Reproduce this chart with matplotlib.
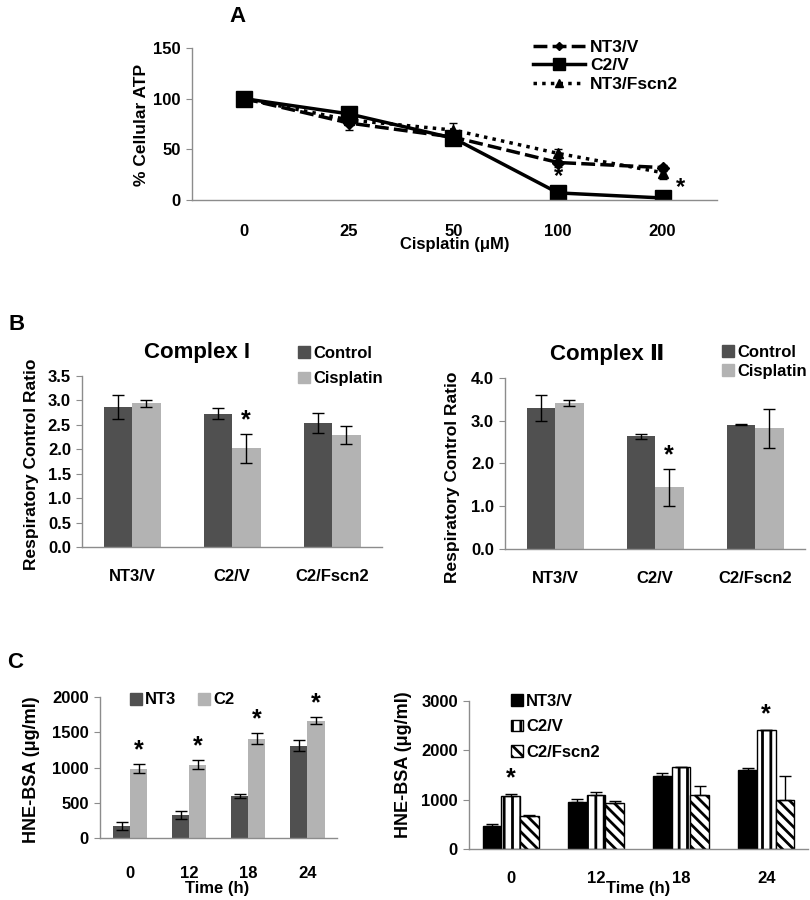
import matplotlib
matplotlib.use("Agg")
import matplotlib.pyplot as plt
from matplotlib.lines import Line2D
import numpy as np

plt.rcParams['font.family'] = ['Liberation Sans', 'DejaVu Sans']
plt.rcParams['font.weight'] = 'bold'
plt.rcParams['hatch.linewidth'] = 2.0

# ---- panel A: cellular ATP vs cisplatin
doses = ["0", "25", "50", "100", "200"]
atp_nt3_v = [100, 76, 62, 37, 32]
atp_nt3_v_err = [0, 7, 3, 4, 3]
atp_c2_v = [100, 85, 61, 7, 2]
atp_c2_v_err = [0, 3, 3, 2, 1]
atp_nt3_fscn2 = [100, 79, 69, 46, 27]
atp_nt3_fscn2_err = [0, 4, 7, 4, 6]

# ---- panel B: respiratory control ratio
cells_b = ["NT3/V", "C2/V", "C2/Fscn2"]
c1_control = [2.87, 2.73, 2.54]
c1_control_err = [0.25, 0.12, 0.20]
c1_cis = [2.94, 2.02, 2.29]
c1_cis_err = [0.07, 0.30, 0.18]
c2_control = [3.30, 2.64, 2.91]
c2_control_err = [0.30, 0.06, 0.01]
c2_cis = [3.41, 1.44, 2.82]
c2_cis_err = [0.07, 0.44, 0.45]

# ---- panel C: HNE-BSA over time
times = ["0", "12", "18", "24"]
hne_nt3 = [170, 330, 600, 1310]
hne_nt3_err = [60, 60, 30, 80]
hne_c2 = [985, 1040, 1410, 1665]
hne_c2_err = [70, 65, 80, 50]

hne_nt3_v = [460, 950, 1480, 1610]
hne_nt3_v_err = [40, 70, 60, 30]
hne_c2_v = [1080, 1100, 1670, 2420]
hne_c2_v_err = [40, 50, 0, 0]
hne_c2_fscn2 = [670, 940, 1100, 1000]
hne_c2_fscn2_err = [10, 40, 180, 470]

W, H = 810, 900
fig = plt.figure(figsize=(W / 100, H / 100), dpi=100)
GREY = '#8c8c8c'
DARK = '#505050'
LIGHT = '#b3b3b3'


def px_axes(left, top, right, bottom):
    return fig.add_axes([left / W, 1 - bottom / H, (right - left) / W, (bottom - top) / H])


def fig_text(x, y, s, **kw):
    fig.text(x / W, 1 - y / H, s, **kw)


def style(ax, xpad):
    for s in ['top', 'right']:
        ax.spines[s].set_visible(False)
    for s in ['left', 'bottom']:
        ax.spines[s].set_color(GREY)
        ax.spines[s].set_linewidth(1)
    ax.tick_params(axis='y', direction='out', length=4, color=GREY, labelsize=12, pad=4)
    ax.tick_params(axis='x', length=0, labelsize=12, pad=xpad)


def square_legend(ax, handles, labels, x, y, loc='center left', **kw):
    opts = dict(frameon=False, fontsize=12, handlelength=0.7, handleheight=0.7,
                handletextpad=0.2, borderpad=0, borderaxespad=0)
    opts.update(kw)
    ax.legend(handles, labels, loc=loc, bbox_to_anchor=(x / W, 1 - y / H),
              bbox_transform=fig.transFigure, **opts)


# ================= A
axA = px_axes(192, 48, 717, 200)
x = np.arange(len(doses))
styles_a = [
    (atp_nt3_v, atp_nt3_v_err, (0, (4, 1.5)), 'D', 6, 'NT3/V'),
    (atp_c2_v, atp_c2_v_err, '-', 's', 11, 'C2/V'),
    (atp_nt3_fscn2, atp_nt3_fscn2_err, (0, (1, 1.5)), '^', 7, 'NT3/Fscn2'),
]
handles_a = []
for vals, errs, ls, mk, ms, lab in styles_a:
    axA.errorbar(x, vals, yerr=errs, color='black', ls=ls, lw=2.5, marker=mk, ms=ms,
                 capsize=3, elinewidth=1)
    handles_a.append(Line2D([], [], color='black', ls=ls, lw=2.5, marker=mk, ms=ms * 0.75))
axA.set_xlim(-0.5, 4.52)
axA.set_ylim(0, 150)
axA.set_yticks([0, 50, 100, 150])
axA.set_xticks(x)
axA.set_xticklabels(doses)
style(axA, 17)
axA.text(3, 12, '*', ha='center', va='bottom', fontsize=17)
axA.text(4.13, 1, '*', ha='left', va='bottom', fontsize=17)
axA.legend(handles_a, [s[5] for s in styles_a], loc='upper left',
           bbox_to_anchor=(533 / W, 1 - 40 / H), bbox_transform=fig.transFigure,
           frameon=False, fontsize=12.5, handlelength=3.0, handletextpad=0.3, labelspacing=0.18,
           borderpad=0, borderaxespad=0)
fig_text(238, 16, 'A', fontsize=16, ha='center', va='center')
fig_text(455, 245, 'Cisplatin (\u03bcM)', fontsize=12, ha='center', va='center')
fig_text(141, 125, '% Cellular ATP', fontsize=12.5, ha='center', va='center', rotation=90)


def grouped(ax, vals, errs, colors, width, offsets):
    xs = np.arange(len(vals[0]))
    for v, e, c, o in zip(vals, errs, colors, offsets):
        ax.bar(xs + o, v, width, color=c, edgecolor='none', zorder=2)
        ax.errorbar(xs + o, v, yerr=e, fmt='none', ecolor='black', elinewidth=1, capsize=4,
                    capthick=1, zorder=3)
    return xs


hB = [plt.Rectangle((0, 0), 1, 1, color=DARK), plt.Rectangle((0, 0), 1, 1, color=LIGHT)]

# ================= B left
axB1 = px_axes(82, 376, 382, 547)
xs = grouped(axB1, [c1_control, c1_cis], [c1_control_err, c1_cis_err], [DARK, LIGHT], 0.285,
             [-0.1425, 0.1425])
axB1.set_xlim(-0.5, 2.5)
axB1.set_ylim(0, 3.5)
axB1.set_yticks(np.arange(0, 3.51, 0.5))
axB1.set_yticklabels([f'{v:.1f}' for v in np.arange(0, 3.51, 0.5)])
axB1.set_xticks(xs)
axB1.set_xticklabels(cells_b)
style(axB1, 16)
axB1.text(1.1425, c1_cis[1] + c1_cis_err[1] + 0.03, '*', ha='center', va='bottom', fontsize=18)
fig_text(197, 352, 'Complex I', fontsize=16, ha='center', va='center')
fig_text(17, 325, 'B', fontsize=16, ha='center', va='center')
fig_text(32, 464, 'Respiratory Control Ratio', fontsize=12.5, ha='center', va='center', rotation=90)
square_legend(axB1, hB, ['Control', 'Cisplatin'], 298, 366, labelspacing=0.65)

# ================= B right
axB2 = px_axes(505, 378, 805, 549)
xs = grouped(axB2, [c2_control, c2_cis], [c2_control_err, c2_cis_err], [DARK, LIGHT], 0.285,
             [-0.1425, 0.1425])
axB2.set_xlim(-0.5, 2.5)
axB2.set_ylim(0, 4.0)
axB2.set_yticks(np.arange(0, 4.01, 1.0))
axB2.set_yticklabels([f'{v:.1f}' for v in np.arange(0, 4.01, 1.0)])
axB2.set_xticks(xs)
axB2.set_xticklabels(cells_b)
style(axB2, 16)
axB2.text(1.1425, c2_cis[1] + c2_cis_err[1] + 0.03, '*', ha='center', va='bottom', fontsize=18)
fig_text(607, 355, 'Complex \u2161', fontsize=16, ha='center', va='center')
fig_text(453, 477, 'Respiratory Control Ratio', fontsize=12.5, ha='center', va='center', rotation=90)
square_legend(axB2, hB, ['Control', 'Cisplatin'], 722, 362, labelspacing=0.25)

# ================= C left
axC1 = px_axes(100, 697, 337, 838)
xs = grouped(axC1, [hne_nt3, hne_c2], [hne_nt3_err, hne_c2_err], [DARK, LIGHT], 0.29, [-0.145, 0.145])
axC1.set_xlim(-0.51, 3.5)
axC1.set_ylim(0, 2000)
axC1.set_yticks([0, 500, 1000, 1500, 2000])
axC1.set_xticks(xs)
axC1.set_xticklabels(times)
style(axC1, 20)
for i in range(len(times)):
    axC1.text(i + 0.145, hne_c2[i] + hne_c2_err[i] + 20, '*', ha='center', va='bottom', fontsize=18)
fig_text(15, 663, 'C', fontsize=16, ha='center', va='center')
fig_text(217, 889, 'Time (h)', fontsize=12, ha='center', va='center')
fig_text(32, 770, 'HNE-BSA (\u03bcg/ml)', fontsize=13, ha='center', va='center', rotation=90)
square_legend(axC1, hB, ['NT3', 'C2'], 130, 700, ncol=2, columnspacing=1.3)

# ================= C right
axC2 = px_axes(469, 701, 808, 849)
xs = np.arange(len(times))
bw = 0.22
series = [
    (hne_nt3_v, hne_nt3_v_err, 'black', '', -bw),
    (hne_c2_v, hne_c2_v_err, 'white', '||', 0),
    (hne_c2_fscn2, hne_c2_fscn2_err, 'white', '\\\\\\', bw),
]
handles = []
for vals, errs, fc, hatch, off in series:
    b = axC2.bar(xs + off, vals, bw, color=fc, edgecolor='black', hatch=hatch, linewidth=1, zorder=2)
    axC2.errorbar(xs + off, vals, yerr=[np.zeros(len(errs)), errs], fmt='none', ecolor='black',
                  elinewidth=1, capsize=4, capthick=1, zorder=3)
    handles.append(b)
axC2.set_xlim(-0.49, 3.49)
axC2.set_ylim(0, 3000)
axC2.set_yticks([0, 1000, 2000, 3000])
axC2.set_xticks(xs)
axC2.set_xticklabels(times)
style(axC2, 16)
axC2.text(0, hne_c2_v[0] + hne_c2_v_err[0] + 60, '*', ha='center', va='bottom', fontsize=18)
axC2.text(3, hne_c2_v[3] + 60, '*', ha='center', va='bottom', fontsize=18)
fig_text(638, 889, 'Time (h)', fontsize=12, ha='center', va='center')
fig_text(404, 765, 'HNE-BSA (\u03bcg/ml)', fontsize=13, ha='center', va='center', rotation=90)
square_legend(axC2, handles, ['NT3/V', 'C2/V', 'C2/Fscn2'], 511, 694, loc='upper left',
              labelspacing=0.62)

fig.savefig('out.png', dpi=100)
